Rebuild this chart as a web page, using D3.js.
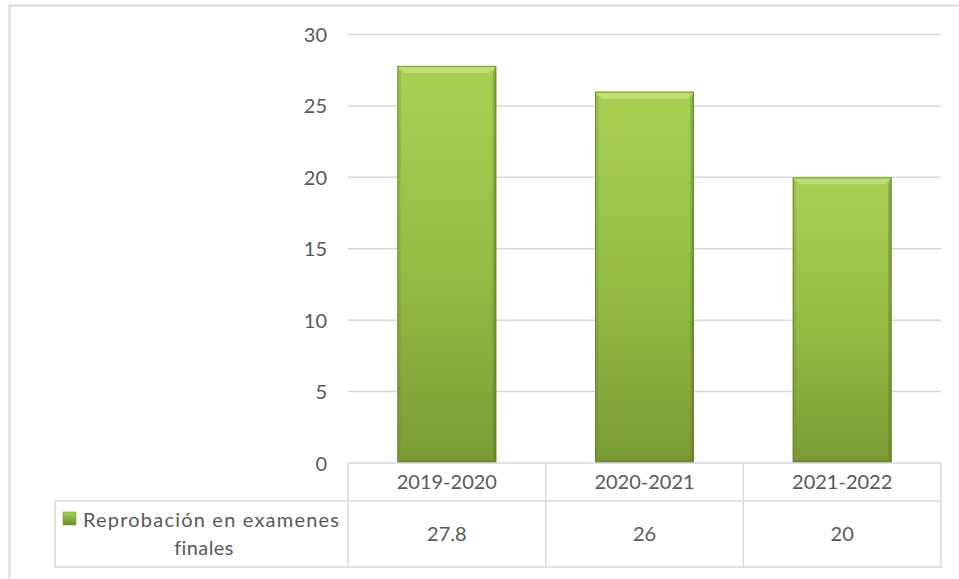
<!DOCTYPE html>
<html><head><meta charset="utf-8">
<script src="https://cdn.jsdelivr.net/npm/d3@7"></script>
<style>body{margin:0;background:#fff}svg{display:block}text{font-family:Lato,"Open Sans",sans-serif;fill:#595959}</style>
</head><body>
<script>
const categories = ["2019-2020","2020-2021","2021-2022"];
const values = [27.8, 26, 20];
const seriesName = ["Reprobación en examenes","finales"];
const yTicks = [0,5,10,15,20,25,30];

(function(){
const W=959,H=579;
const svg=d3.select("body").append("svg").attr("width",W).attr("height",H);
const defs=svg.append("defs");
const g1=defs.append("linearGradient").attr("id","barG").attr("x1",0).attr("y1",0).attr("x2",0).attr("y2",1);
g1.append("stop").attr("offset","0%").attr("stop-color","#a8d153");
g1.append("stop").attr("offset","50%").attr("stop-color","#95bd45");
g1.append("stop").attr("offset","100%").attr("stop-color","#7a9b34");
const g2=defs.append("linearGradient").attr("id","legG").attr("x1",0).attr("y1",0).attr("x2",0).attr("y2",1);
g2.append("stop").attr("offset","0%").attr("stop-color","#a9d255");
g2.append("stop").attr("offset","100%").attr("stop-color","#6f8f2e");

svg.append("rect").attr("x",9.5).attr("y",5.5).attr("width",W+10).attr("height",H+10)
  .attr("fill","none").attr("stroke","#d9d9d9").attr("stroke-width",2);

const pL=348,pR=941,pT=34.5,pB=463;
const x=d3.scaleBand().domain(categories).range([pL,pR]).paddingInner(0).paddingOuter(0);
const y=d3.scaleLinear().domain([0,30]).range([pB,pT]);

svg.append("g").selectAll("line").data(yTicks.filter(d=>d>0)).join("line")
  .attr("x1",pL).attr("x2",pR).attr("y1",d=>y(d)).attr("y2",d=>y(d))
  .attr("stroke","#d9d9d9").attr("stroke-width",1.5);

const yAxis=d3.axisLeft(y).tickValues(yTicks).tickSize(0).tickPadding(0);
const ya=svg.append("g").attr("transform",`translate(${327},0)`).call(yAxis);
ya.select(".domain").remove();
ya.selectAll("text").style("font-size","20px").style("font-family","Lato, 'Open Sans', sans-serif").attr("fill","#595959").attr("dy","0.35em");

const bw=x.bandwidth()*0.5;
const bars=svg.append("g").selectAll("g").data(values).join("g");
bars.each(function(v,i){
  const gx=x(categories[i])+x.bandwidth()/2-bw/2, gy=y(v), h=y(0)-y(v);
  const g=d3.select(this);
  g.append("rect").attr("x",gx).attr("y",gy).attr("width",bw).attr("height",h).attr("fill","url(#barG)");
  const b=7;
  g.append("path").attr("d",`M${gx},${gy}L${gx+bw},${gy}L${gx+bw-b},${gy+b}L${gx+b},${gy+b}Z`).attr("fill","#c3e27a").attr("opacity",0.85);
  g.append("path").attr("d",`M${gx},${gy}L${gx+b*0.5},${gy+b}L${gx+b*0.5},${gy+h-b*0.5}L${gx},${gy+h}Z`).attr("fill","#6f8f2e").attr("opacity",0.25);
  g.append("path").attr("d",`M${gx+bw},${gy}L${gx+bw-b*0.5},${gy+b}L${gx+bw-b*0.5},${gy+h-b*0.5}L${gx+bw},${gy+h}Z`).attr("fill","#5f7a25").attr("opacity",0.4);
  g.append("path").attr("d",`M${gx},${gy+h}L${gx+b*0.5},${gy+h-b*0.5}L${gx+bw-b*0.5},${gy+h-b*0.5}L${gx+bw},${gy+h}Z`).attr("fill","#5f7a25").attr("opacity",0.45);
  g.append("rect").attr("x",gx+0.5).attr("y",gy+0.5).attr("width",bw-1).attr("height",h-1).attr("fill","none").attr("stroke","#5a7423").attr("stroke-width",1).attr("opacity",0.7);
});

const r1=501,r2=567,legL=55;
const tl=svg.append("g").attr("stroke","#d9d9d9").attr("stroke-width",1.5).attr("fill","none");
tl.append("path").attr("d",`M${pL},${pB}H${pR}V${r2}H${legL}V${r1}H${pR}`);
tl.append("line").attr("x1",pL).attr("x2",pL).attr("y1",pB).attr("y2",r2);
categories.forEach((c,i)=>{ if(i>0) tl.append("line").attr("x1",x(c)).attr("x2",x(c)).attr("y1",pB).attr("y2",r2); });

svg.append("g").selectAll("text").data(categories).join("text")
  .attr("x",d=>x(d)+x.bandwidth()/2).attr("y",(pB+r1)/2).attr("dy","0.35em")
  .attr("text-anchor","middle").style("font-size","20px").text(d=>d);
svg.append("g").selectAll("text").data(values).join("text")
  .attr("x",(d,i)=>x(categories[i])+x.bandwidth()/2).attr("y",(r1+r2)/2).attr("dy","0.35em")
  .attr("text-anchor","middle").style("font-size","20px").text(d=>d);

svg.append("rect").attr("x",63).attr("y",512).attr("width",13).attr("height",13).attr("fill","url(#legG)").attr("stroke","#6f8f2e").attr("stroke-width",0.5);
svg.append("text").attr("x",83).attr("y",527).style("font-size","20px").style("letter-spacing","1.2px").text(seriesName[0]);
svg.append("text").attr("x",204).attr("y",555).attr("text-anchor","middle").style("font-size","20px").style("letter-spacing","0.4px").text(seriesName[1]);
})();
</script>
</body></html>
